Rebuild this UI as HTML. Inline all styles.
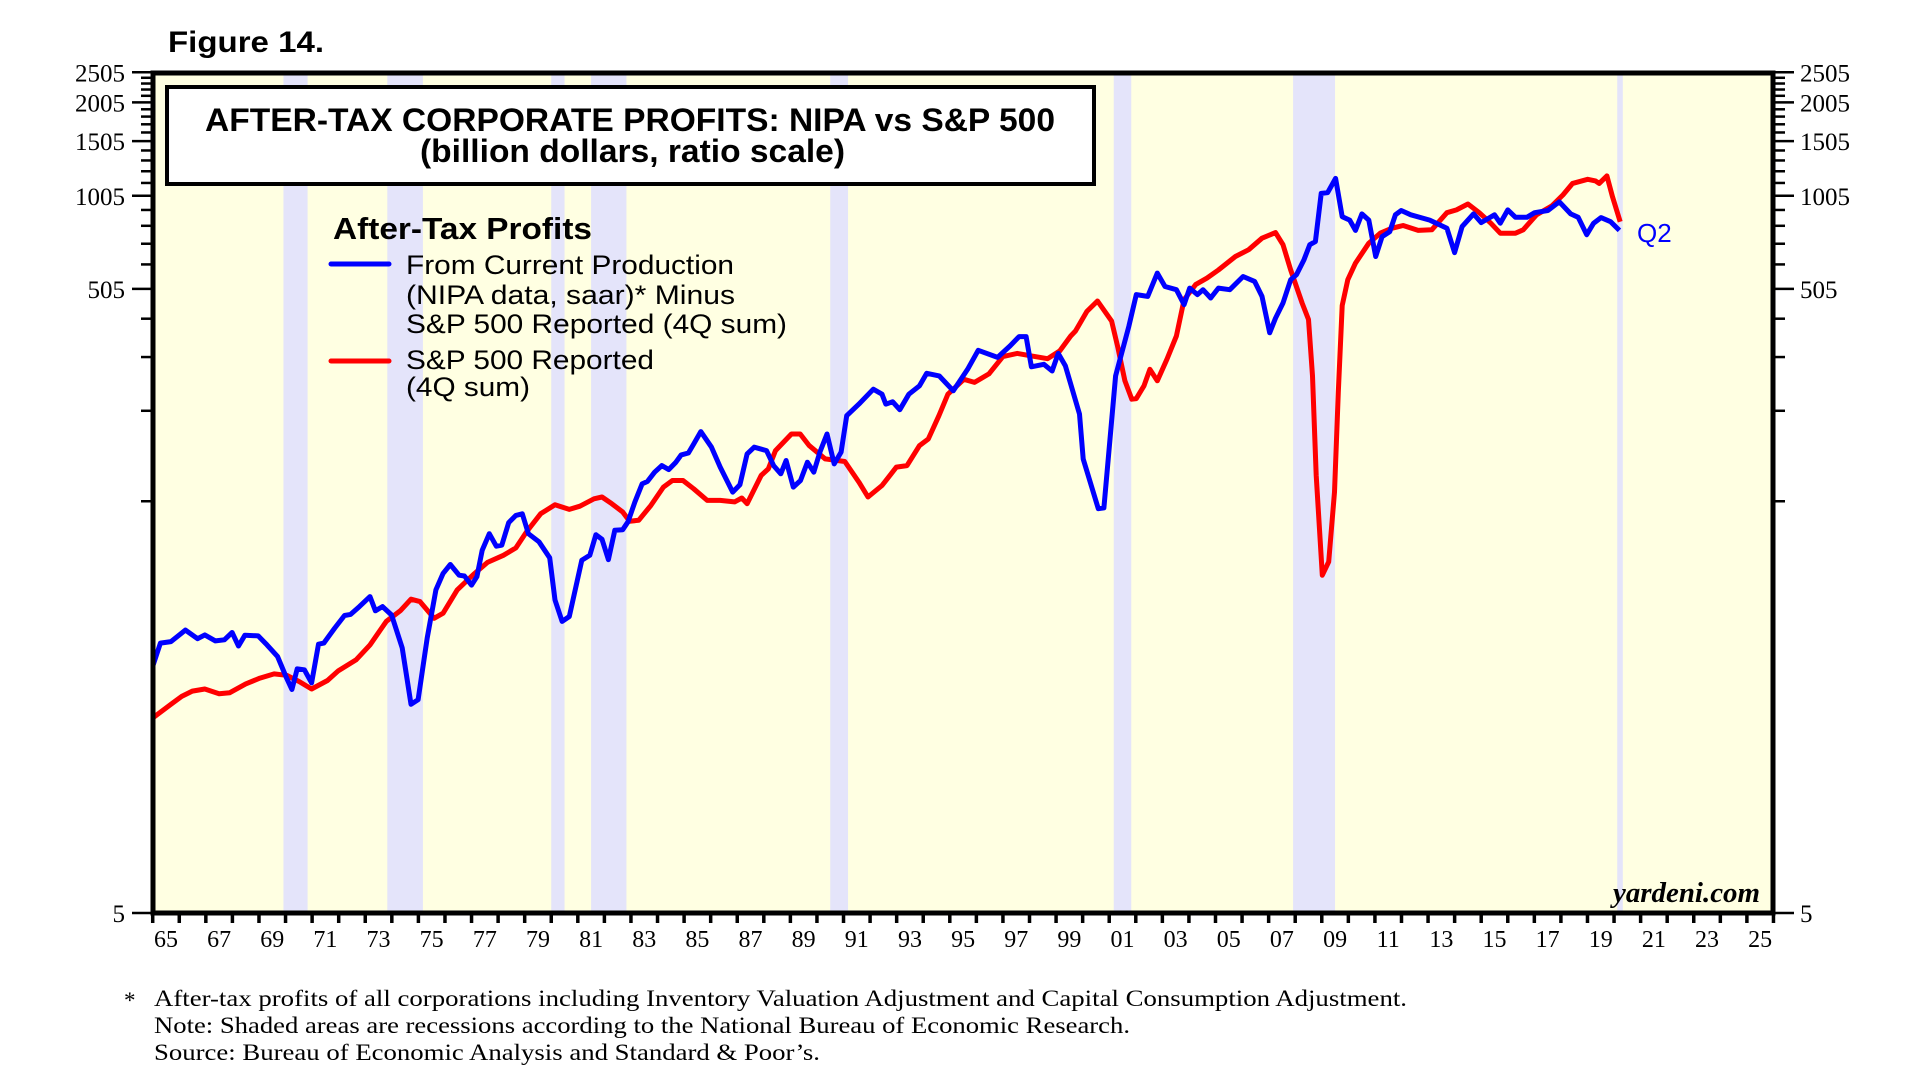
<!DOCTYPE html>
<html><head><meta charset="utf-8"><title>After-Tax Corporate Profits</title>
<style>
html,body{margin:0;padding:0;background:#fff;}
svg{display:block;}
.sans{font-family:"Liberation Sans",Arial,sans-serif;}
.serif{font-family:"Liberation Serif","Times New Roman",serif;}
</style></head>
<body>
<svg id="chart" width="1924" height="1085" viewBox="0 0 1924 1085" xmlns="http://www.w3.org/2000/svg">
  <rect x="0" y="0" width="1924" height="1085" fill="#ffffff"/>
  <text class="sans" x="168" y="52" font-size="30" font-weight="bold" textLength="156" lengthAdjust="spacingAndGlyphs">Figure 14.</text>
  <rect x="153" y="73" width="1620" height="840" fill="#ffffe2"/>
  <g id="bands"></g>
  <g>
    <rect x="167" y="87" width="927" height="97" fill="#ffffff" stroke="#000" stroke-width="4"/>
    <text class="sans" x="205" y="131" font-size="32" font-weight="bold" textLength="850" lengthAdjust="spacingAndGlyphs">AFTER-TAX CORPORATE PROFITS: NIPA vs S&amp;P 500</text>
    <text class="sans" x="420" y="162" font-size="32" font-weight="bold" textLength="425" lengthAdjust="spacingAndGlyphs">(billion dollars, ratio scale)</text>
  </g>
  <g>
    <text class="sans" x="333" y="239" font-size="31" font-weight="bold" textLength="259" lengthAdjust="spacingAndGlyphs">After-Tax Profits</text>
    <line x1="331" y1="264" x2="389" y2="264" stroke="#0000ff" stroke-width="5" stroke-linecap="round"/>
    <text class="sans" font-size="27" fill="#000">
      <tspan x="406" y="274" textLength="328" lengthAdjust="spacingAndGlyphs">From Current Production</tspan>
      <tspan x="406" y="304" textLength="329" lengthAdjust="spacingAndGlyphs">(NIPA data, saar)* Minus</tspan>
      <tspan x="406" y="333" textLength="381" lengthAdjust="spacingAndGlyphs">S&amp;P 500 Reported (4Q sum)</tspan>
    </text>
    <line x1="331" y1="361" x2="389" y2="361" stroke="#ff0000" stroke-width="5" stroke-linecap="round"/>
    <text class="sans" font-size="27" fill="#000">
      <tspan x="406" y="369" textLength="248" lengthAdjust="spacingAndGlyphs">S&amp;P 500 Reported</tspan>
      <tspan x="406" y="396" textLength="124" lengthAdjust="spacingAndGlyphs">(4Q sum)</tspan>
    </text>
  </g>
  <g id="series"></g>
  <text class="sans" x="1637" y="242" font-size="26" fill="#0000ff">Q2</text>
  <text class="serif" x="1760" y="902" font-size="28" font-weight="bold" font-style="italic" text-anchor="end" textLength="147" lengthAdjust="spacingAndGlyphs">yardeni.com</text>
  <rect x="153" y="73" width="1620" height="840" fill="none" stroke="#000" stroke-width="5"/>
  <g id="axes"></g>
  <g class="serif" font-size="23">
    <text x="124" y="1008">*</text>
    <text x="154" y="1006" textLength="1253" lengthAdjust="spacingAndGlyphs">After-tax profits of all corporations including Inventory Valuation Adjustment and Capital Consumption Adjustment.</text>
    <text x="154" y="1033" textLength="976" lengthAdjust="spacingAndGlyphs">Note: Shaded areas are recessions according to the National Bureau of Economic Research.</text>
    <text x="154" y="1060" textLength="666" lengthAdjust="spacingAndGlyphs">Source: Bureau of Economic Analysis and Standard &amp; Poor’s.</text>
  </g>
</svg>
<script>
const recStart = [1969.92, 1973.83, 1980.0, 1981.5, 1990.5, 2001.17, 2007.92, 2020.12];
const recEnd   = [1970.83, 1975.17, 1980.5, 1982.83, 1991.17, 2001.83, 2009.5, 2020.33];

const nipaYears = [1965.02,1965.29,1965.69,1966.23,1966.69,1966.96,1967.36,1967.70,1967.99,1968.23,1968.47,1968.97,1969.30,1969.70,1970.04,1970.24,1970.44,1970.71,1970.98,1971.24,1971.44,1971.85,1972.22,1972.45,1972.78,1973.18,1973.38,1973.65,1973.99,1974.39,1974.72,1974.99,1975.33,1975.66,1975.93,1976.20,1976.53,1976.73,1977.00,1977.20,1977.40,1977.67,1977.93,1978.14,1978.40,1978.67,1978.91,1979.14,1979.54,1979.94,1980.14,1980.41,1980.68,1981.15,1981.45,1981.68,1981.91,1982.15,1982.39,1982.69,1982.89,1983.15,1983.42,1983.62,1983.89,1984.16,1984.42,1984.69,1984.89,1985.16,1985.36,1985.63,1986.03,1986.36,1986.83,1987.10,1987.37,1987.64,1988.10,1988.37,1988.64,1988.84,1989.11,1989.38,1989.64,1989.88,1990.11,1990.38,1990.65,1990.91,1991.12,1991.58,1992.12,1992.45,1992.59,1992.85,1993.12,1993.46,1993.86,1994.13,1994.60,1995.13,1995.67,1996.07,1996.80,1997.27,1997.61,1997.87,1998.07,1998.54,1998.85,1999.08,1999.35,1999.88,2000.02,2000.59,2000.80,2001.24,2001.74,2002.02,2002.45,2002.81,2003.10,2003.53,2003.82,2004.03,2004.32,2004.53,2004.82,2005.11,2005.54,2006.04,2006.47,2006.75,2007.04,2007.26,2007.54,2007.83,2008.05,2008.33,2008.55,2008.76,2008.98,2009.22,2009.52,2009.77,2010.05,2010.27,2010.51,2010.77,2011.03,2011.27,2011.56,2011.77,2011.99,2012.35,2013.06,2013.71,2014.00,2014.28,2014.71,2015.00,2015.50,2015.72,2016.00,2016.29,2016.72,2017.01,2017.51,2017.94,2018.37,2018.65,2018.97,2019.23,2019.51,2019.87,2020.20];
const nipaValues = [31.3,36.8,37.2,40.5,38.0,39.1,37.4,37.7,39.8,36.0,39.0,38.8,36.3,33.3,28.4,26.1,30.4,30.2,27.4,36.5,36.8,41.1,45.1,45.5,48.2,51.9,46.7,48.2,45.3,35.5,23.4,24.2,38.2,54.5,61.6,65.8,60.8,60.4,56.5,60.1,73.1,82.6,75.3,75.9,89.7,94.6,95.7,82.6,77.8,69.1,50.6,43.2,44.8,67.9,70.4,82.0,79.3,68.2,84.7,85.1,90.2,104.5,119.4,121.5,130.2,136.7,132.7,140.2,147.9,150.0,160.3,175.8,156.6,135.2,112.4,118.6,149.0,156.6,152.7,136.7,128.6,141.9,116.6,122.4,140.2,130.2,151.0,172.6,138.4,151.0,197.7,215.3,240.4,231.7,215.3,219.1,206.6,231.7,246.6,270.4,265.4,237.6,278.6,320.6,304.1,331.1,354.8,354.8,283.8,289,275.2,313.3,285.7,200,143.5,99.4,100,265.4,383.5,484,477.5,567.5,514,502,449.6,508,484,502,472,508,502,553.5,533.5,477.5,365,406.5,455,540.5,561,626.5,700,716,1023,1028,1143,861,839.5,778,879,839.5,641.5,743,771,873,901.5,873,839.5,790.5,660.5,800,879,824,873,820.5,905.5,857,857,887,901.5,961.5,879,857,753.5,820.5,855,830,778];

const spYears = [1965.02,1965.69,1966.09,1966.49,1966.96,1967.50,1967.90,1968.50,1969.04,1969.57,1970.04,1970.51,1970.98,1971.58,1971.99,1972.65,1973.18,1973.79,1974.32,1974.72,1975.06,1975.59,1975.93,1976.46,1977.07,1977.60,1978.20,1978.67,1979.07,1979.60,1980.14,1980.68,1981.08,1981.61,1981.91,1982.28,1982.69,1982.95,1983.29,1983.75,1984.22,1984.56,1984.96,1985.36,1985.87,1986.36,1986.90,1987.17,1987.37,1987.90,1988.17,1988.44,1989.04,1989.37,1989.71,1990.31,1991.05,1991.58,1991.92,1992.45,1992.99,1993.39,1993.86,1994.19,1994.59,1994.93,1995.53,1995.93,1996.47,1997.00,1997.54,1998.21,1998.68,1999.14,1999.55,1999.73,2000.16,2000.56,2001.09,2001.31,2001.59,2001.85,2002.02,2002.31,2002.53,2002.81,2003.17,2003.53,2003.82,2004.25,2004.68,2005.11,2005.75,2006.25,2006.75,2007.26,2007.54,2007.83,2008.26,2008.50,2008.65,2008.79,2009.02,2009.26,2009.48,2009.62,2009.77,2009.98,2010.27,2010.77,2011.20,2011.63,2012.06,2012.63,2013.14,2013.71,2014.07,2014.50,2014.93,2015.36,2015.72,2016.29,2016.58,2017.08,2017.65,2018.08,2018.44,2019.01,2019.30,2019.44,2019.73,2019.94,2020.23];
const spValues = [21.2,23.4,24.8,25.8,26.2,25.3,25.5,27.2,28.4,29.3,29.0,27.7,26.2,27.9,30.0,32.5,36.3,43.2,46.7,50.9,50.0,44.2,45.9,54.5,61.1,66.8,70.4,74.4,83.7,95.7,102.3,98.9,101.2,106.9,108.4,103.1,97.0,90.6,91.2,101.8,116.6,122.4,122.4,115.1,105.7,105.7,104.5,107.6,103.1,127.1,133.4,152.7,172.6,172.6,158.5,143.6,140.9,121,108.4,118,135.2,136.7,158.5,166.4,197.7,231.7,258.8,252.9,269.2,306,313.3,306,301.3,319.2,356.4,369.8,427.5,461.5,398,331.1,255.8,223.4,224.4,246.6,278.6,255.8,299.9,356.4,466.5,521,547,580.5,641.5,674.5,734.5,765.5,700,580.5,455,402.5,265.4,127.1,60.8,67.1,112.4,235,446.5,540.5,611,708,762,790.5,807,778,781.5,887,905.5,946,887,820.5,762,762,781.5,873,931,1011.5,1101.5,1135,1122,1101.5,1164,997.5,830];

const yLabelValues = [5, 505, 1005, 1505, 2005, 2505];
const xLabelYears = [1965,1967,1969,1971,1973,1975,1977,1979,1981,1983,1985,1987,1989,1991,1993,1995,1997,1999,2001,2003,2005,2007,2009,2011,2013,2015,2017,2019,2021,2023,2025];

const NS = 'http://www.w3.org/2000/svg';
const X0 = 152.7, XPER = 26.57, Y0 = 913, YDEC = 311.4;
function xScale(yr){ return X0 + (yr - 1965) * XPER; }
function yScale(v){ return Y0 - YDEC * Math.log10(v / 5); }
function mk(tag, attrs, parent){
  const e = document.createElementNS(NS, tag);
  for (const k in attrs) e.setAttribute(k, attrs[k]);
  parent.appendChild(e);
  return e;
}

const bands = document.getElementById('bands');
for (let i = 0; i < recStart.length; i++) {
  const x1 = xScale(recStart[i]), x2 = xScale(recEnd[i]);
  const r = mk('rect', {x: x1, y: 73, width: Math.max(2, x2 - x1), height: 840, fill: '#e4e4fa'}, bands);
  
  
}

const series = document.getElementById('series');
function pathFrom(xs, vs){
  let d = '';
  for (let i = 0; i < xs.length; i++) d += (i ? 'L' : 'M') + xScale(xs[i]).toFixed(1) + ',' + yScale(vs[i]).toFixed(1);
  return d;
}
const redLine = mk('path', {d: pathFrom(spYears, spValues), fill: 'none', stroke: '#ff0000', 'stroke-width': 5, 'stroke-linejoin': 'round'}, series);


const blueLine = mk('path', {d: pathFrom(nipaYears, nipaValues), fill: 'none', stroke: '#0000ff', 'stroke-width': 5, 'stroke-linejoin': 'round'}, series);



const axes = document.getElementById('axes');
for (let v = 5; v <= 2505; v += 100) {
  const y = yScale(v);
  const major = yLabelValues.indexOf(v) >= 0;
  const len = major ? 19 : 10;
  const tl = mk('line', {x1: 151 - len, y1: y, x2: 151, y2: y, stroke: '#000', 'stroke-width': 2.5}, axes);
  
  
  const tr = mk('line', {x1: 1775, y1: y, x2: 1775 + len, y2: y, stroke: '#000', 'stroke-width': 2.5}, axes);
  
  
}
for (const v of yLabelValues) {
  const y = yScale(v);
  const l = mk('text', {x: 125, y: y + 9, 'text-anchor': 'end', 'font-size': 25, class: 'serif'}, axes);
  l.textContent = String(v);
  
  
  const r = mk('text', {x: 1800, y: y + 9, 'text-anchor': 'start', 'font-size': 25, class: 'serif'}, axes);
  r.textContent = String(v);
  
  
}
for (let yr = 1965; yr <= 2026; yr++) {
  const x = xScale(yr);
  const t = mk('line', {x1: x, y1: 913, x2: x, y2: 923, stroke: '#000', 'stroke-width': 3.5}, axes);
  
  
}
for (const yr of xLabelYears) {
  const l = mk('text', {x: xScale(yr + 0.5), y: 947, 'text-anchor': 'middle', 'font-size': 24, class: 'serif'}, axes);
  l.textContent = String(yr).slice(2);
  
  
}
</script>
</body></html>
